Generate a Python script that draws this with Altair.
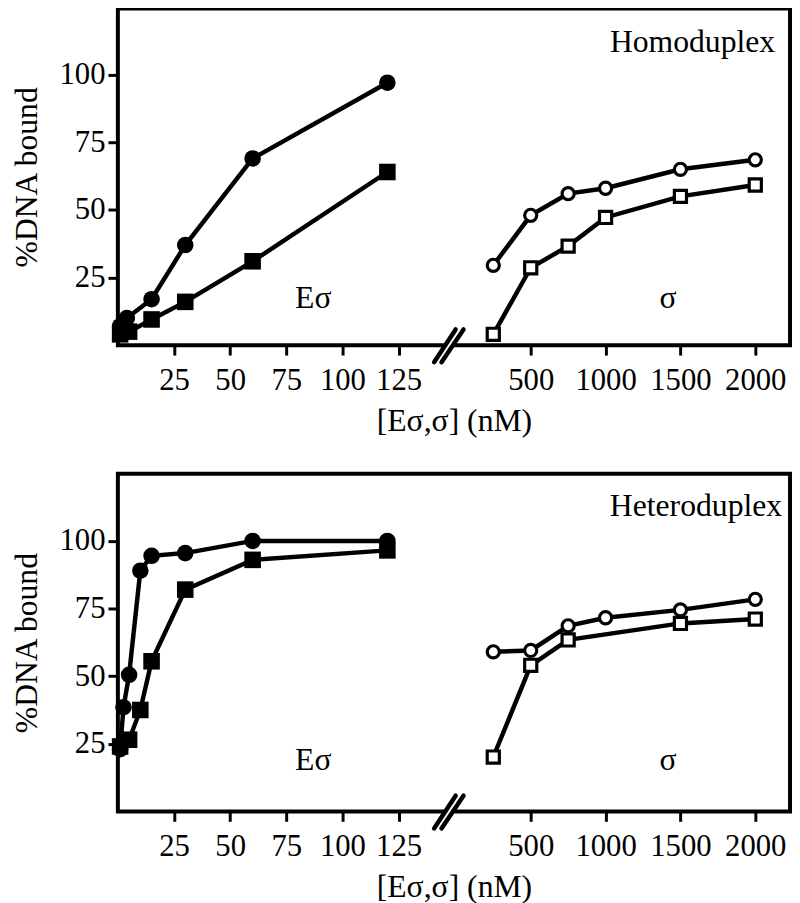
import altair as alt
import pandas as pd

# ---------------- data ----------------
panels = ["Homoduplex", "Heteroduplex"]

# Homoduplex
homo_Es_circ_x = [1, 4, 15, 30, 60, 120]
homo_Es_circ_y = [7, 10, 17, 37, 69, 97]
homo_Es_sq_x = [1, 5, 15, 30, 60, 120]
homo_Es_sq_y = [4, 5, 9.5, 16, 31, 64]
homo_s_circ_x = [250, 500, 750, 1000, 1500, 2000]
homo_s_circ_y = [29.5, 48, 56, 58, 65, 68.5]
homo_s_sq_x = [250, 500, 750, 1000, 1500, 2000]
homo_s_sq_y = [4, 28.6, 36.6, 47.2, 55, 59.2]

# Heteroduplex
hetero_Es_circ_x = [1, 2.5, 5, 10, 15, 30, 60, 120]
hetero_Es_circ_y = [23, 38.5, 50.5, 89, 94.5, 95.5, 100, 100]
hetero_Es_sq_x = [1, 5, 10, 15, 30, 60, 120]
hetero_Es_sq_y = [24, 26.5, 37.5, 55.5, 82, 93, 96.5]
hetero_s_circ_x = [250, 500, 750, 1000, 1500, 2000]
hetero_s_circ_y = [59, 59.5, 68.6, 71.6, 74.5, 78.4]
hetero_s_sq_x = [250, 500, 750, 1500, 2000]
hetero_s_sq_y = [20.1, 54, 63.4, 69.5, 71.1]

y_ticks = [25, 50, 75, 100]
x_ticks_Es = [25, 50, 75, 100, 125]
x_ticks_s = [500, 1000, 1500, 2000]

# broken-axis mapping: sigma concentrations are drawn at OFFSET + conc/RATIO
OFFSET = 150.5
RATIO = 15.0
BREAK_AT = 147.0

rows = []
def add(panel, agent, shape, xs, ys):
    for x, y in zip(xs, ys):
        rows.append(dict(panel=panel, agent=agent, shape=shape,
                         series=f"{agent}-{shape}", conc=x, pct=y))

add("Homoduplex", "Es", "circle", homo_Es_circ_x, homo_Es_circ_y)
add("Homoduplex", "Es", "square", homo_Es_sq_x, homo_Es_sq_y)
add("Homoduplex", "s", "circle", homo_s_circ_x, homo_s_circ_y)
add("Homoduplex", "s", "square", homo_s_sq_x, homo_s_sq_y)
add("Heteroduplex", "Es", "circle", hetero_Es_circ_x, hetero_Es_circ_y)
add("Heteroduplex", "Es", "square", hetero_Es_sq_x, hetero_Es_sq_y)
add("Heteroduplex", "s", "circle", hetero_s_circ_x, hetero_s_circ_y)
add("Heteroduplex", "s", "square", hetero_s_sq_x, hetero_s_sq_y)
df = pd.DataFrame(rows)

x_axis_values = x_ticks_Es + [OFFSET + v / RATIO for v in x_ticks_s]

FONT = "Liberation Serif"
W = 679
XMAX = 299.3
XT = "[Eσ,σ] (nM)"
YT = "%DNA bound"

label_expr = (f"datum.value < {BREAK_AT} ? format(datum.value, 'd') : "
              f"format((datum.value - {OFFSET}) * {RATIO}, 'd')")

def panel_chart(name, height, ytop, center_labels, right_labels):
    d = df[df.panel == name]
    base = alt.Chart(d).transform_calculate(
        u=f"datum.agent == 'Es' ? datum.conc : {OFFSET} + datum.conc / {RATIO}"
    )
    xenc = alt.X("u:Q", scale=alt.Scale(domain=[0, XMAX], nice=False, zero=False),
                 axis=alt.Axis(values=x_axis_values, labelExpr=label_expr,
                               title=XT, labelPadding=11, titlePadding=10,
                               labelFlush=False, labelOverlap=False))
    yenc = alt.Y("pct:Q", scale=alt.Scale(domain=[0, ytop], nice=False, zero=False),
                 axis=alt.Axis(values=y_ticks, title=YT,
                               labelPadding=3, titlePadding=16))
    shape_enc = alt.Shape("shape:N", scale=alt.Scale(domain=["circle", "square"],
                                                     range=["circle", "square"]), legend=None)

    lines = base.mark_line(color="black", strokeWidth=4.5).encode(
        x=xenc, y=yenc, detail="series:N")
    filled = base.transform_filter("datum.agent == 'Es'").mark_point(
        filled=True, color="black", opacity=1, size=280).encode(
        x=alt.X("u:Q", title=XT), y=alt.Y("pct:Q", title=YT), shape=shape_enc)
    open_pts = base.transform_filter("datum.agent == 's'").mark_point(
        filled=True, color="white", stroke="black", strokeWidth=3.2, opacity=1,
        size=150).encode(x=alt.X("u:Q", title=XT), y=alt.Y("pct:Q", title=YT),
                         shape=shape_enc)

    # axis-break marker
    brk_gap = pd.DataFrame({"x": [145.2], "x2": [149.0], "y": [0], "y2": [0]})
    gap = alt.Chart(brk_gap).mark_rule(color="white", strokeWidth=7).encode(
        x=alt.X("x:Q", title=XT), x2="x2:Q", y=alt.Y("y:Q", title=YT), y2="y2:Q")
    slashes = pd.DataFrame({"x": [140.8, 144.1], "x2": [150.4, 153.9],
                            "y": [-6.3, -6.3], "y2": [5.8, 5.8]})
    sl = alt.Chart(slashes).mark_rule(color="black", strokeWidth=4.5, strokeCap="round").encode(
        x=alt.X("x:Q", title=XT), x2="x2:Q", y=alt.Y("y:Q", title=YT), y2="y2:Q")

    t_c = alt.Chart(pd.DataFrame(center_labels)).mark_text(
        font=FONT, fontSize=32, color="black", baseline="middle", align="center").encode(
        x=alt.X("x:Q", title=XT), y=alt.Y("y:Q", title=YT), text="t:N")
    t_r = alt.Chart(pd.DataFrame(right_labels)).mark_text(
        font=FONT, fontSize=32, color="black", baseline="middle", align="right").encode(
        x=alt.X("x:Q", title=XT), y=alt.Y("y:Q", title=YT), text="t:N")

    return alt.layer(lines, gap, sl, filled, open_pts, t_c, t_r).properties(
        width=W, height=height)

top = panel_chart("Homoduplex", 340, 124.4,
                  [dict(x=87, y=17.3, t="Eσ"), dict(x=245, y=17.3, t="σ")],
                  [dict(x=292.7, y=112, t="Homoduplex")])
bottom = panel_chart("Heteroduplex", 341, 124.8,
                     [dict(x=87, y=18.9, t="Eσ"), dict(x=245, y=18.9, t="σ")],
                     [dict(x=295.8, y=112.8, t="Heteroduplex")])

chart = alt.vconcat(top, bottom, spacing=34).properties(
    padding={"top": -6, "left": 0, "right": 0, "bottom": 0}, background="white"
).configure_view(stroke="black", strokeWidth=4).configure_axis(
    grid=False, domain=False, tickSize=10, tickWidth=3, tickColor="black",
    labelFont=FONT, labelFontSize=31, labelColor="black",
    titleFont=FONT, titleFontSize=32, titleFontWeight="normal", titleColor="black"
)

chart.save("out.html", embed_options={"renderer": "svg", "actions": False})
